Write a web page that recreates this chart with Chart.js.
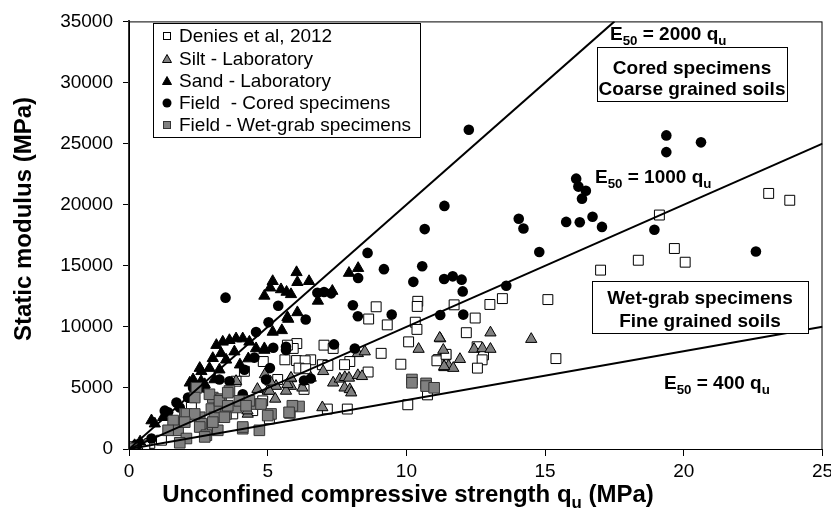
<!DOCTYPE html>
<html>
<head>
<meta charset="utf-8">
<script src="https://cdn.jsdelivr.net/npm/chart.js@4.4.0/dist/chart.umd.min.js"></script>
<style>
  html, body { margin: 0; padding: 0; background: #fff; }
  #wrap { width: 831px; height: 516px; }
</style>
</head>
<body>
<div id="wrap"><canvas id="chart" width="831" height="516"></canvas></div>
<script>
// axis ticks
const xTicks = [0, 5, 10, 15, 20, 25];
const yTicks = [0, 5000, 10000, 15000, 20000, 25000, 30000, 35000];

// [qu (MPa), E50 (MPa)]
const denies = [
  [19.12,19150],[23.06,20920],[23.82,20360],[19.66,16410],[20.05,15290],[18.36,15450],[17.0,14640],
  [8.91,11640],[10.41,12090],[10.39,11670],[11.72,11800],[13.01,11830],[13.46,12310],[15.1,12230],
  [9.31,10160],[10.32,10380],[12.48,10720],[8.64,10640],[12.16,9520],[12.55,8370],[12.78,7700],
  [12.73,7300],[12.56,6620],[11.42,7700],[11.15,7320],[15.39,7400],[10.38,9790],[6.05,8630],
  [5.92,8230],[7.03,8500],[7.36,8230],[5.62,7300],[6.04,7240],[6.55,7300],[6.35,7220],[6.13,6620],
  [6.37,6570],[6.97,6900],[7.17,6840],[7.96,7160],[9.09,7830],[9.8,6940],[10.08,8770],[11.1,7220],
  [11.43,7750],[8.62,6300],[7.77,6900],[6.31,4880],[7.15,3270],[7.87,3270],[10.05,3620],[10.76,4430],
  [4.84,7160],[5.36,5690],[4.82,3940],[5.71,8500],[4.16,6360],[3.86,5550],[2.25,3400],[3.74,2870],
  [4.46,3140],[1.17,720],[0.75,460],[0.39,320],[0.15,190],[5.06,2470],[0.57,320]
];
const silt = [
  [13.03,9520],[14.5,8990],[11.22,9040],[11.33,8100],[12.44,8180],[12.74,8230],[13.03,8180],
  [11.93,7350],[11.37,6680],[11.52,6810],[11.69,6620],[8.25,7830],[8.5,7970],[7.0,6360],[6.55,5820],
  [5.84,5770],[5.84,5150],[6.25,5010],[5.66,4750],[7.36,5420],[7.6,5740],[7.78,5870],[7.93,5820],
  [7.77,5010],[7.96,4880],[8.01,4610],[8.25,6030],[8.4,5950],[10.44,8180],[11.2,9090],[11.36,6760],
  [6.97,3400],[5.3,5150],[5.0,4750],[4.28,2870],[3.86,5550],[4.63,4900],[5.06,4750],[5.71,5290],
  [5.84,5820],[5.27,4100],[4.27,3140],[5.1,5500],[4.9,6100],[0.15,150],[0.3,250]
];
const sand = [
  [6.04,14460],[6.07,13650],[6.49,13730],[7.93,14400],[8.26,14800],[7.33,12930],[6.81,12120],
  [6.07,11180],[5.74,10640],[5.51,9710],[5.18,9580],[4.88,8100],[5.18,13730],[5.09,13200],
  [4.88,12530],[5.48,13060],[5.68,12850],[5.84,12660],[5.71,10780],[3.15,8500],[3.38,8770],
  [3.62,8900],[3.86,9040],[4.1,9040],[4.34,8770],[4.58,8230],[4.88,8230],[3.02,7430],[3.32,7830],
  [3.5,7300],[3.8,7970],[2.55,6620],[2.9,6620],[2.31,5690],[2.6,5550],[3.08,5690],[0.93,2070],
  [0.81,2330],[1.23,2600],[3.26,6490],[2.61,6360],[2.19,5420],[2.73,5290],[4.3,7400],[4.0,6900],
  [0.2,300],[0.4,600]
];
const cored = [
  [12.25,26130],[19.37,25670],[20.62,25100],[19.37,24300],[16.12,22130],[16.2,21480],[16.47,21140],
  [16.33,20490],[11.37,19900],[14.05,18850],[14.22,18050],[15.76,18590],[16.25,18560],[16.71,19010],
  [17.05,18180],[18.94,17940],[22.6,16170],[10.66,18000],[8.6,16050],[14.79,16120],[9.19,14720],
  [10.57,14960],[10.25,13680],[11.36,13920],[11.67,14130],[11.99,13860],[12.03,12900],[13.6,13360],
  [9.47,11000],[11.22,10970],[12.05,11000],[8.26,14000],[6.79,12790],[7.03,12850],[7.29,12740],
  [8.07,11770],[8.25,10860],[6.37,10600],[5.66,8370],[7.39,8560],[8.14,8230],[6.31,5610],[6.55,5770],
  [5.38,11720],[5.03,10380],[5.2,8290],[5.66,8100],[5.08,6620],[4.94,5690],[3.48,12390],[4.58,9580],
  [4.52,7480],[4.16,6490],[3.26,5690],[3.62,5550],[2.73,5010],[2.31,5010],[2.13,4210],[1.83,3400],
  [1.41,3000],[0.81,860],[4.1,4480],[1.29,3140],[1.71,3810],[0.28,320],[0.1,100]
];
const wetGrab = [
  [10.2,5690],[10.2,5420],[10.71,5370],[10.71,5150],[11.0,5010],[6.13,3480],[5.8,2950],[2.43,5010],
  [3.02,4210],[3.32,4080],[3.62,4750],[4.22,3940],[4.58,3680],[4.76,3680],[2.01,2870],[2.55,2600],
  [2.97,3270],[3.08,2600],[2.61,2070],[3.02,1660],[1.59,2330],[1.77,1530],[2.07,860],[1.83,510],
  [4.1,1660],[4.7,1530],[3.26,3400],[3.5,2870],[5.12,2870],[5.89,3540],[3.86,3400],[2.07,2870],
  [2.37,2870],[1.41,1530],[2.55,1800],[2.79,1130],[3.2,1530],[2.37,4210],[2.01,2200],[2.73,990],
  [2.9,4480],[3.26,3940],[3.56,4610],[3.98,3940],[4.34,3940],[5.0,2740],[3.44,2600],[3.02,2200],
  [4.1,1800],[5.77,3000],[3.56,3540],[4.22,3540],[0.1,50]
];

// reference lines E50 = k * qu, end points
const line2000 = [[0,0],[17.5,35000]];
const line1000 = [[0,0],[25,25000]];
const line400 = [[0,0],[25,10000]];

const FONT = '"Liberation Sans", Arial, sans-serif';
const toXY = arr => arr.map(p => ({x: p[0], y: p[1]}));

function subText(ctx, parts, x, y, size, align) {
  // parts: [text, isSub]
  let w = 0;
  parts.forEach(p => {
    ctx.font = 'bold ' + (p[1] ? size * 0.7 : size) + 'px ' + FONT;
    w += ctx.measureText(p[0]).width;
  });
  let cx = align === 'center' ? x - w / 2 : x;
  parts.forEach(p => {
    ctx.font = 'bold ' + (p[1] ? size * 0.7 : size) + 'px ' + FONT;
    ctx.fillText(p[0], cx, p[1] ? y + size * 0.25 : y);
    cx += ctx.measureText(p[0]).width;
  });
}

const decor = {
  id: 'decor',
  afterDatasetsDraw(chart) {
    const ctx = chart.ctx;
    const a = chart.chartArea;
    ctx.save();
    // frame
    ctx.strokeStyle = '#000';
    ctx.lineWidth = 1;
    ctx.strokeRect(a.left + 0.5, a.top + 0.5, a.right - a.left - 1, a.bottom - a.top);

    // legend
    ctx.fillStyle = '#fff';
    ctx.fillRect(153, 23, 267, 114);
    ctx.strokeRect(153.5, 23.5, 267, 114);
    const rows = [36, 59, 81, 103, 125];
    const labels = ['Denies et al, 2012', 'Silt - Laboratory', 'Sand - Laboratory',
                    'Field  - Cored specimens', 'Field - Wet-grab specimens'];
    const mx = 167;
    ctx.lineWidth = 1;
    ctx.strokeStyle = '#000';
    ctx.fillStyle = '#fff';
    ctx.fillRect(mx - 4, rows[0] - 4, 8, 8); ctx.strokeRect(mx - 3.5, rows[0] - 3.5, 7, 7);
    [[rows[1], '#808080'], [rows[2], '#000']].forEach(t => {
      ctx.beginPath();
      ctx.moveTo(mx, t[0] - 4.5); ctx.lineTo(mx + 4.5, t[0] + 3.5); ctx.lineTo(mx - 4.5, t[0] + 3.5);
      ctx.closePath(); ctx.fillStyle = t[1]; ctx.fill(); ctx.stroke();
    });
    ctx.beginPath(); ctx.arc(mx, rows[3], 4.5, 0, Math.PI * 2); ctx.fillStyle = '#000'; ctx.fill();
    ctx.fillStyle = '#808080';
    ctx.fillRect(mx - 4, rows[4] - 4, 8, 8); ctx.strokeStyle = '#333'; ctx.strokeRect(mx - 3.5, rows[4] - 3.5, 7, 7);
    ctx.fillStyle = '#000';
    ctx.font = '19px ' + FONT;
    ctx.textBaseline = 'middle';
    ctx.textAlign = 'left';
    labels.forEach((l, i) => ctx.fillText(l, 179, rows[i] + 1));

    // annotations
    ctx.textBaseline = 'alphabetic';
    ctx.fillStyle = '#000';
    subText(ctx, [['E', 0], ['50', 1], [' = 2000 q', 0], ['u', 1]], 610, 40, 19, 'left');
    subText(ctx, [['E', 0], ['50', 1], [' = 1000 q', 0], ['u', 1]], 595, 183, 19, 'left');
    subText(ctx, [['E', 0], ['50', 1], [' = 400 q', 0], ['u', 1]], 664, 389, 19, 'left');

    ctx.strokeStyle = '#000';
    ctx.fillStyle = '#fff';
    ctx.fillRect(597, 47, 190, 54); ctx.strokeRect(597.5, 47.5, 190, 54);
    ctx.fillRect(592, 281, 216, 52); ctx.strokeRect(592.5, 281.5, 216, 52);
    ctx.fillStyle = '#000';
    ctx.textAlign = 'center';
    ctx.font = 'bold 19px ' + FONT;
    ctx.fillText('Cored specimens', 692, 74);
    ctx.fillText('Coarse grained soils', 692, 95);
    ctx.fillText('Wet-grab specimens', 700, 304);
    ctx.fillText('Fine grained soils', 700, 327);

    // axis titles
    ctx.textAlign = 'left';
    subText(ctx, [['Unconfined compressive strength q', 0], ['u', 1], [' (MPa)', 0]], 408, 502, 24, 'center');
    ctx.translate(31, 219);
    ctx.rotate(-Math.PI / 2);
    ctx.textAlign = 'center';
    ctx.font = 'bold 24px ' + FONT;
    ctx.fillText('Static modulus (MPa)', 0, 0);
    ctx.restore();
  }
};

const lineStyle = {
  type: 'line', showLine: true, pointRadius: 0, borderColor: '#000', borderWidth: 2,
  fill: false, order: 0
};

new Chart(document.getElementById('chart'), {
  type: 'scatter',
  data: {
    datasets: [
      Object.assign({label: 'E50 = 2000 qu', data: toXY(line2000)}, lineStyle),
      Object.assign({label: 'E50 = 1000 qu', data: toXY(line1000)}, lineStyle),
      Object.assign({label: 'E50 = 400 qu', data: toXY(line400)}, lineStyle),
      {label: 'Field - Wet-grab specimens', data: toXY(wetGrab), pointStyle: 'rect', pointRadius: 7.5,
       backgroundColor: '#808080', borderColor: '#333', borderWidth: 1, order: 1},
      {label: 'Field  - Cored specimens', data: toXY(cored), pointStyle: 'circle', pointRadius: 5.3,
       backgroundColor: '#000', borderColor: '#000', borderWidth: 0, order: 2},
      {label: 'Sand - Laboratory', data: toXY(sand), pointStyle: 'triangle', pointRadius: 6.5,
       backgroundColor: '#000', borderColor: '#000', borderWidth: 1, order: 3},
      {label: 'Silt - Laboratory', data: toXY(silt), pointStyle: 'triangle', pointRadius: 6.5,
       backgroundColor: '#808080', borderColor: '#000', borderWidth: 1, order: 4},
      {label: 'Denies et al, 2012', data: toXY(denies), pointStyle: 'rect', pointRadius: 7,
       backgroundColor: '#fff', borderColor: '#000', borderWidth: 1, order: 5}
    ]
  },
  options: {
    responsive: false,
    animation: false,
    events: [],
    layout: {padding: {left: 0, right: 5, top: 14, bottom: 0}},
    plugins: {legend: {display: false}, tooltip: {enabled: false}},
    scales: {
      x: {
        type: 'linear', min: 0, max: 25,
        afterBuildTicks: s => { s.ticks = xTicks.map(v => ({value: v})); },
        afterFit: s => { s.height = 67; s.paddingLeft = 0; s.paddingRight = 0; },
        ticks: {color: '#000', font: {family: FONT, size: 19}, padding: 4, maxRotation: 0},
        grid: {drawOnChartArea: false, tickLength: 7, color: '#000'},
        border: {color: '#000', width: 1}
      },
      y: {
        type: 'linear', min: 0, max: 35000,
        afterBuildTicks: s => { s.ticks = yTicks.map(v => ({value: v})); },
        afterFit: s => { s.width = 129; },
        ticks: {color: '#000', font: {family: FONT, size: 19}, padding: 10, callback: v => String(v)},
        grid: {drawOnChartArea: false, tickLength: 6, color: '#000'},
        border: {color: '#333', width: 2}
      }
    }
  },
  plugins: [decor]
});
</script>
</body>
</html>
